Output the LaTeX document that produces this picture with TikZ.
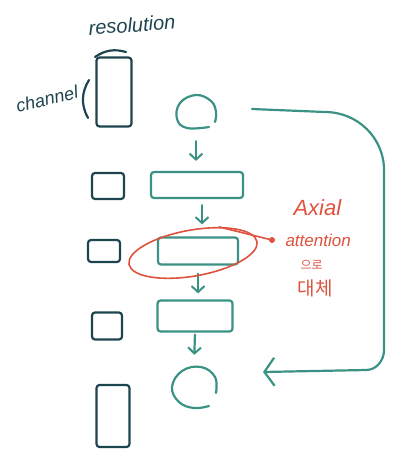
\documentclass[tikz,border=0pt]{standalone}
\usepackage{fontspec}
\setmainfont{Liberation Sans}
\newfontfamily\krfont{Noto Sans CJK KR}
\usetikzlibrary{arrows.meta,shapes.geometric}
\definecolor{teal1}{RGB}{58,146,132}
\definecolor{ink}{RGB}{30,68,80}
\definecolor{redink}{RGB}{222,82,62}
\tikzset{
  tl/.style={draw=teal1, line width=2.2pt, line cap=round, line join=round},
  dk/.style={draw=ink, line width=2.2pt, line cap=round, line join=round},
  rd/.style={draw=redink, line width=1.6pt, line cap=round},
  layer/.style={tl, rounded corners=3pt, inner sep=0pt},
  small/.style={dk, rounded corners=3pt, inner sep=0pt, minimum width=31pt, minimum height=24pt},
  flow/.style={tl, -{Straight Barb[length=6pt,width=13pt,line width=2pt]}},
  circ/.style={circle, inner sep=0pt, minimum size=38pt},
}
\begin{document}
\begin{tikzpicture}[x=1pt,y=-1pt]
\useasboundingbox (0,0) rectangle (411,450);
% labels
\node[text=ink, font=\fontsize{20}{20}\selectfont\itshape, rotate=4] (res) at (132,25) {resolution};
\node[text=ink, font=\fontsize{18}{18}\selectfont\itshape, rotate=14] (ch) at (47,99) {channel};
% tall input block
\node[small, minimum width=35pt, minimum height=69pt] (in) at (114,92) {};
\draw[dk] (95,57) to[bend left=25] (126,52);
\draw[dk] (89,80) to[bend right=30] (88,118);
% top circle (open dome)
\node[circ] (c1) at (196,112) {};
\draw[tl] plot[smooth, tension=0.7] coordinates {(209,127) (187,128) (177,119) (180,103) (196,95) (211,101) (216,112) (215,122)};
% layers
\node[layer, minimum width=92pt, minimum height=26pt] (r1) at (197,185) {};
\node[small, minimum width=32pt, minimum height=26pt] (s1) at (108,186) {};
\node[layer, minimum width=80pt, minimum height=27pt] (r2) at (198,251) {};
\node[small, minimum width=32pt, minimum height=22pt] (s2) at (104,251) {};
\node[layer, minimum width=75pt, minimum height=31pt] (r3) at (195,316) {};
\node[small, minimum width=30pt, minimum height=27pt] (s3) at (107,326) {};
% bottom circle (open C)
\node[circ, minimum size=40pt] (c2) at (194,387) {};
\draw[tl] plot[smooth, tension=0.7] coordinates {(216,393) (215,377) (201,367) (182,371) (172,387) (179,402) (194,408) (209,406)};
% bottom tall block
\node[small, minimum width=33pt, minimum height=62pt] (out) at (113,416) {};
% flow arrows
\draw[flow, shorten <=10pt, shorten >=10pt] (c1.south) -- (c1.south |- r1.north);
\draw[flow, shorten <=6pt, shorten >=12pt] (r1.south -| 202,0) -- (202,0 |- r2.north);
\draw[flow, shorten <=8pt, shorten >=6pt] (r2.south -| 198,0) -- (198,0 |- r3.north);
\draw[flow, shorten <=2pt, shorten >=12pt] (r3.south) -- (c2.north);
% skip connection
\coordinate (ls) at (252,109);
\coordinate (le) at (263,372);
\draw[tl, -{Straight Barb[length=10pt,width=28pt,line width=2.2pt]}]
  (ls) -- (325,112) to[out=0,in=90] (384,170) -- (384,350)
  to[out=-90,in=0] (366,370) -- (le);
% axial attention highlight
\node[ellipse, draw=redink, line width=1.6pt, minimum width=130pt, minimum height=46pt, rotate=10] (ax) at (193,253) {};
\coordinate (dot) at (272,240);
\draw[rd] (ax.35) -- (dot);
\fill[redink] (dot) circle (3pt);
\node[text=redink, font=\fontsize{22}{22}\selectfont\itshape, anchor=west] (t1) at (290,208) {Axial};
\node[text=redink, font=\fontsize{17}{17}\selectfont\itshape, anchor=west] (t2) at (282,240) {attention};
\node[text=redink, font=\krfont\fontsize{12}{12}\selectfont, anchor=west] (t3) at (297,265) {으로};
\node[text=redink, font=\krfont\fontsize{19}{19}\selectfont, anchor=west] (t4) at (294,288) {대체};
\end{tikzpicture}
\end{document}
